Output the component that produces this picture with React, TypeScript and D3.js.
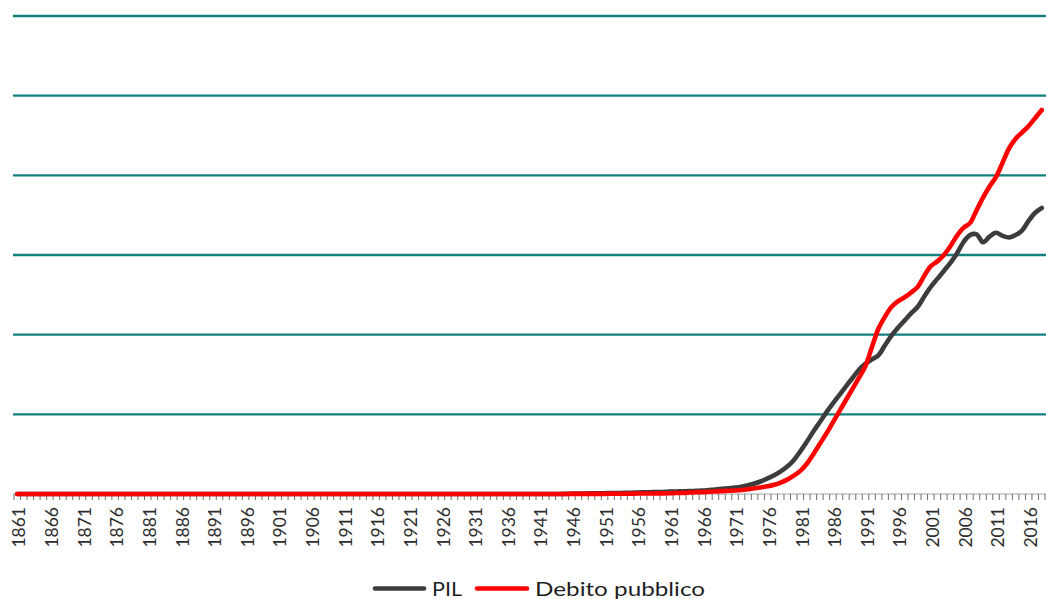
import React from "react";
import * as d3 from "d3";

// Years on the category axis (one category per year)
const years: number[] = d3.range(1861, 2019);

// Prodotto interno lordo, miliardi di euro correnti (1861–2018)
const pil: number[] = [
  0, 0, 0, 0, 0, 0, 0, 0, 0, 0,
  0, 0, 0, 0, 0, 0, 0, 0, 0, 0,
  0, 0, 0, 0, 0, 0, 0, 0, 0, 0,
  0, 0, 0, 0, 0, 0, 0, 0, 0, 0,
  0, 0, 0, 0, 0, 0, 0, 0, 0, 0,
  0, 0, 0, 0, 0, 0, 0, 0, 0, 0,
  0, 0, 0, 0, 0, 0, 0, 0, 0, 0,
  0, 0, 0, 0, 0, 0, 0, 0, 0, 0,
  0, 0, 0, 0, 1, 2, 3, 3, 4, 4,
  5, 6, 6, 7, 8, 9, 10, 11, 12, 13,
  15, 16, 17, 18, 20, 22, 25, 28, 32, 36,
  40, 46, 55, 66, 80, 98, 118, 142, 172, 212,
  268, 328, 392, 452, 512, 568, 622, 676, 728, 780,
  818, 845, 872, 935, 995, 1045, 1090, 1135, 1175, 1240,
  1300, 1350, 1400, 1450, 1510, 1580, 1625, 1630, 1580, 1615,
  1640, 1620, 1610, 1625, 1655, 1715, 1765, 1795,
];

// Debito pubblico, miliardi di euro correnti (1861–2018)
const debito: number[] = [
  0, 0, 0, 0, 0, 0, 0, 0, 0, 0,
  0, 0, 0, 0, 0, 0, 0, 0, 0, 0,
  0, 0, 0, 0, 0, 0, 0, 0, 0, 0,
  0, 0, 0, 0, 0, 0, 0, 0, 0, 0,
  0, 0, 0, 0, 0, 0, 0, 0, 0, 0,
  0, 0, 0, 0, 0, 0, 0, 0, 0, 0,
  0, 0, 0, 0, 0, 0, 0, 0, 0, 0,
  0, 0, 0, 0, 0, 0, 0, 0, 0, 0,
  0, 0, 0, 0, 0, 1, 1, 1, 1, 1,
  1, 2, 2, 2, 2, 3, 3, 3, 4, 4,
  5, 6, 7, 9, 11, 12, 14, 16, 18, 20,
  22, 25, 30, 36, 42, 48, 58, 72, 90, 115,
  145, 190, 250, 315, 380, 450, 520, 590, 660, 730,
  805, 925, 1040, 1115, 1175, 1210, 1235, 1265, 1300, 1370,
  1430, 1460, 1500, 1555, 1620, 1670, 1700, 1780, 1860, 1930,
  1990, 2080, 2170, 2230, 2270, 2310, 2360, 2410,
];

// Value grid (no labels shown on the value axis)
const gridValues: number[] = [500, 1000, 1500, 2000, 2500, 3000];

// Year labels, one every five years
const tickLabels: number[] = years.filter((y) => (y - 1861) % 5 === 0);

const seriesNames = ["PIL", "Debito pubblico"];
const seriesColors = ["#3c3c3c", "#ff0000"];

const W = 1046;
const H = 599;
const plot = { left: 14, right: 1045, top: 16, bottom: 494 };

export default function App() {
  const x = d3
    .scaleBand<number>()
    .domain(years)
    .range([plot.left, plot.right])
    .paddingInner(0)
    .paddingOuter(0);
  const cx = (yr: number) => (x(yr) as number) + x.bandwidth() / 2;

  const y = d3.scaleLinear().domain([0, 3000]).range([plot.bottom, plot.top]);

  const line = d3
    .line<number>()
    .x((_, i) => cx(years[i]))
    .y((v) => y(v))
    .curve(d3.curveCatmullRom.alpha(0.5));

  const series = [pil, debito];

  const tickPositions = years.map((yr) => x(yr) as number).concat([plot.right]);

  return (
    <svg
      width={W}
      height={H}
      viewBox={`0 0 ${W} ${H}`}
      style={{ position: "absolute", left: 0, top: 0, background: "#fff" }}
      fontFamily="Lato, 'Open Sans', sans-serif"
    >
      {/* horizontal gridlines */}
      {gridValues.map((v) => (
        <line
          key={v}
          x1={plot.left - 1}
          x2={W}
          y1={y(v)}
          y2={y(v)}
          stroke="#147f7f"
          strokeWidth={2.4}
        />
      ))}

      {/* category axis */}
      <line
        x1={plot.left - 1}
        x2={W}
        y1={plot.bottom}
        y2={plot.bottom}
        stroke="#a6a6a6"
        strokeWidth={1.2}
      />
      {tickPositions.map((tx, i) => (
        <line
          key={i}
          x1={tx}
          x2={tx}
          y1={plot.bottom}
          y2={plot.bottom + 6}
          stroke="#6f6f6f"
          strokeWidth={1}
        />
      ))}
      {tickLabels.map((yr) => (
        <text
          key={yr}
          transform={`translate(${cx(yr) + 8.2},${plot.bottom + 13}) rotate(-90)`}
          textAnchor="end"
          fontSize={17.5}
          fill="#2e2e2e"
        >
          {yr}
        </text>
      ))}

      {/* series lines */}
      {series.map((s, i) => (
        <path
          key={seriesNames[i]}
          d={line(s) ?? ""}
          fill="none"
          stroke={seriesColors[i]}
          strokeWidth={4.6}
          strokeLinejoin="round"
          strokeLinecap="round"
        />
      ))}

      {/* legend */}
      <g>
        <line x1={375} x2={424} y1={588.5} y2={588.5} stroke={seriesColors[0]} strokeWidth={4.6} strokeLinecap="round" />
        <text x={432} y={596} fontSize={20} fill="#1e1e1e" textLength={30} lengthAdjust="spacingAndGlyphs">
          {seriesNames[0]}
        </text>
        <line x1={477} x2={527} y1={588.5} y2={588.5} stroke={seriesColors[1]} strokeWidth={4.6} strokeLinecap="round" />
        <text x={535} y={596} fontSize={20} fill="#1e1e1e" textLength={170} lengthAdjust="spacingAndGlyphs">
          {seriesNames[1]}
        </text>
      </g>
    </svg>
  );
}
